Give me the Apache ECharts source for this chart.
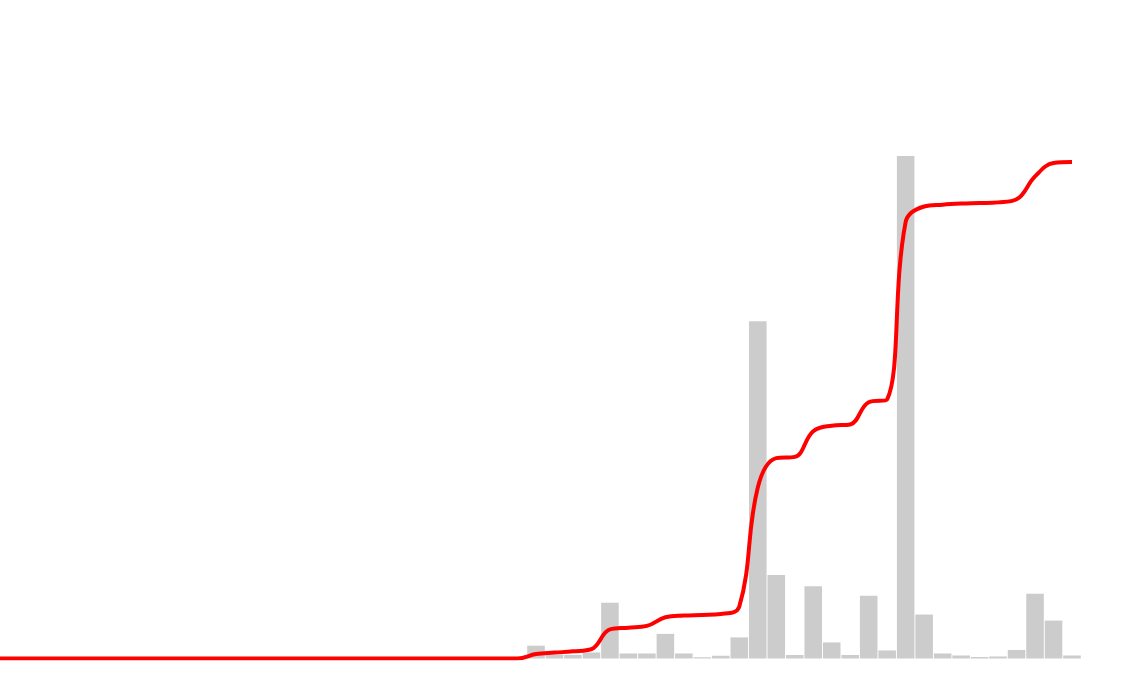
<!DOCTYPE html>
<html>
<head>
<meta charset="utf-8">
<script src="https://cdn.jsdelivr.net/npm/echarts@6/dist/echarts.min.js"></script>
<style>html,body{margin:0;padding:0;background:#fff}#c{width:1124px;height:680px}</style>
</head>
<body>
<div id="c"></div>
<script>
// bin categories (0..58)
var categories = [];
for (var i = 0; i < 59; i++) categories.push(String(i + 1));

// histogram counts (relative, tallest = 100)
var barValues = [
  0,0,0,0,0,0,0,0,0,0,
  0,0,0,0,0,0,0,0,0,0,
  0,0,0,0,0,0,0,0,0,
  2.55,0.8,0.7,1.2,11.1,1.0,1.0,4.9,1.0,0.25,
  0.55,4.2,67.1,16.6,0.7,14.4,3.2,0.7,12.5,1.6,
  100,8.75,1.0,0.6,0.3,0.4,1.7,12.9,7.55,0.6
];

// cumulative share, percent
var cumValues = [
  0,0,0,0,0,0,0,0,0,0,
  0,0,0,0,0,0,0,0,0,0,
  0,0,0,0,0,0,0,0,0,
  0.91,1.19,1.44,1.87,5.85,6.21,6.56,8.30,8.66,8.77,
  8.96,10.46,34.42,40.35,40.60,45.76,46.89,47.14,51.62,52.19,
  87.91,91.04,91.40,91.61,91.72,91.86,92.47,97.09,99.79,100
];

var chart = echarts.init(document.getElementById('c'), null, {renderer: 'canvas'});
chart.setOption({
  animation: false,
  backgroundColor: '#ffffff',
  grid: {left: 0, right: 52, top: 156, bottom: 21.5, containLabel: false},
  xAxis: {
    type: 'category', data: categories, boundaryGap: false,
    axisLine: {show: false}, axisTick: {show: false}, axisLabel: {show: false}, splitLine: {show: false}
  },
  yAxis: [
    {type: 'value', min: 0, max: 100, show: false, splitLine: {show: false}},
    {type: 'value', min: 0, max: 101.2, show: false, splitLine: {show: false}}
  ],
  series: [
    {
      type: 'bar', data: barValues, yAxisIndex: 0, clip: false,
      barCategoryGap: '5%',
      itemStyle: {color: '#cccccc'}
    },
    {
      type: 'line', data: cumValues, yAxisIndex: 1, smooth: 0.4,
      showSymbol: false, symbol: 'none',
      lineStyle: {color: '#ff0000', width: 4},
      itemStyle: {color: '#ff0000'}
    }
  ]
});
</script>
</body>
</html>
